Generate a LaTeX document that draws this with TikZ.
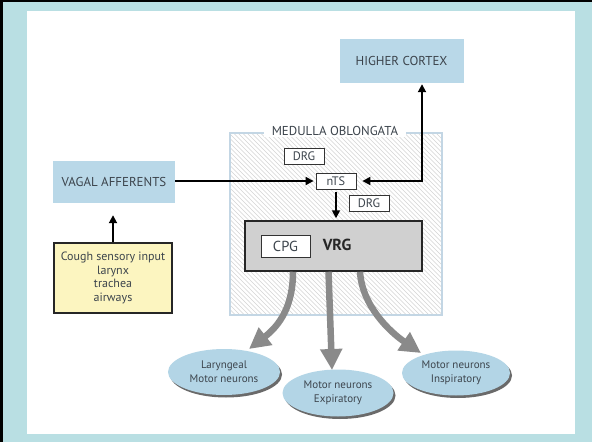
\documentclass[tikz,border=0pt]{standalone}
\usepackage{fontspec}
\setmainfont{PT Sans}
\usetikzlibrary{arrows.meta,calc,shadows,shapes.geometric}
\definecolor{bandcol}{HTML}{B9DFE3}
\definecolor{boxblue}{HTML}{B9D8E8}
\definecolor{ellblue}{HTML}{B3D5E6}
\definecolor{medline}{HTML}{C3D6E4}
\definecolor{hatchcol}{HTML}{D4D4D4}
\definecolor{txtcol}{HTML}{3C444C}
\definecolor{yelcol}{HTML}{FCF5C0}
\definecolor{vrgcol}{HTML}{D0D0D0}
\definecolor{garrow}{HTML}{8A8A8A}
\definecolor{shcol}{HTML}{505050}
\tikzset{
  bluebox/.style={fill=boxblue, text=txtcol, minimum width=#1, font=\fontsize{12.9}{14}\selectfont},
  smallbox/.style={draw=black!80, line width=0.8, fill=white, minimum width=40, minimum height=16, inner sep=0, text=txtcol, font=\fontsize{12.3}{14}\selectfont},
  ellnode/.style={ellipse, fill=ellblue, text=txtcol, align=center, inner sep=0,
     font=\fontsize{11}{14}\selectfont,
     drop shadow={shadow xshift=2pt, shadow yshift=-2.5pt, fill=shcol, opacity=0.85}},
  blk/.style={line width=1.8, -{Triangle[length=8,width=8]}},
  gar/.style={draw=garrow, line width=6.5, -{Triangle[length=21,width=21]}}
}
\begin{document}
\begin{tikzpicture}[x=1pt,y=-1pt]
\useasboundingbox (0,0) rectangle (592,442);
\fill[bandcol] (0,0) rectangle (592,442);
\fill[black] (0,0) rectangle (3,442);
\fill[black] (0,0) rectangle (592,1.5);
\fill[white] (27,11) rectangle (575,434);

% medulla hatched area
\begin{scope}
\clip (230,133) rectangle (442,315);
\foreach \a in {-190,-185.5,...,450} \draw[hatchcol,line width=0.6] (230+\a,133) -- ++(182,182);
\end{scope}
\node[draw=medline, line width=1.5, minimum width=212, minimum height=182, inner sep=0] (med) at (336,224) {};
\node[fill=white, text=txtcol, inner xsep=8, inner ysep=1, font=\fontsize{12.9}{14}\selectfont] (medlabel) at (335,131) {MEDULLA OBLONGATA};

% blue boxes
\node[bluebox=124, minimum height=44] (cortex) at (401.5,61) {HIGHER CORTEX};
\node[bluebox=122, minimum height=42] (vagal) at (114,182) {VAGAL AFFERENTS};

% small boxes
\node[smallbox] (drg1) at (304,156) {DRG};
\node[smallbox] (nts) at (336,181) {nTS};
\node[smallbox] (drg2) at (369,203) {DRG};

% VRG
\node[draw=black!85, line width=1.5, fill=vrgcol, minimum width=177, minimum height=50] (vrg) at (333.5,246) {};
\node[draw=black!80, line width=0.8, fill=white, minimum width=49, minimum height=22, inner sep=0, text=txtcol, font=\fontsize{14.5}{16}\selectfont] (cpg) at (285.5,246) {CPG};
\node[text=black!85, font=\fontsize{16}{18}\selectfont\bfseries] (vrgtext) at (337,245) {VRG};

% cough box
\node[draw=black!85, line width=1.5, fill=yelcol, minimum width=118, minimum height=70, align=center, text=txtcol, font=\fontsize{12}{13.5}\selectfont] (cough) at (113,278) {Cough sensory input\\larynx\\trachea\\airways};

% ellipses
\node[ellnode, minimum width=112, minimum height=46] (ell1) at (224,372) {Laryngeal\\Motor neurons};
\node[ellnode, minimum width=111, minimum height=47] (ell2) at (338,393) {Motor neurons\\Expiratory};
\node[ellnode, minimum width=108, minimum height=45] (ell3) at (456,373) {Motor neurons\\Inspiratory};

% black arrows
\draw[blk, shorten >=2] (vagal.east |- nts) -- (nts.west);
\coordinate (ck) at (422,181);
\draw[line width=1.8, {Triangle[length=8,width=8]}-{Triangle[length=8,width=8]}, shorten <=6, shorten >=1] (nts.east) -- (ck) -- (cortex.south -| ck);
\draw[blk, shorten <=3, shorten >=2] (nts.south) -- (nts.south |- vrg.north);
\draw[blk, shorten >=12] (cough.north) -- (cough.north |- vagal.south);

% gray arrows
\coordinate (t1) at (249,349);
\coordinate (t2) at (332,370);
\coordinate (t3) at (421,353);
\draw[gar] ($(vrg.south)+(-40.5,0)$) .. controls +(0,34) and (280,325) .. (t1);
\draw[gar] ($(vrg.south)+(-5,0)$) -- (t2);
\draw[gar] ($(vrg.south)+(26.5,0)$) .. controls +(2,34) and (390,332) .. (t3);
\end{tikzpicture}
\end{document}
